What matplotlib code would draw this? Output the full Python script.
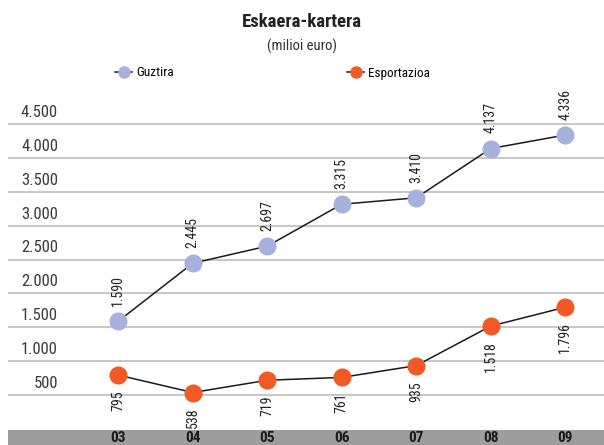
import matplotlib.pyplot as plt
from matplotlib.lines import Line2D
import matplotlib.transforms as mtransforms

plt.rcParams['font.family'] = ['Roboto Condensed', 'DejaVu Sans']

years = ['03', '04', '05', '06', '07', '08', '09']
guztira = [1590, 2445, 2697, 3315, 3410, 4137, 4336]
esportazioa = [795, 538, 719, 761, 935, 1518, 1796]
yticks = [500, 1000, 1500, 2000, 2500, 3000, 3500, 4000, 4500]

blue = '#a6b2dc'
orange = '#f15a24'

def fmt(v):
    return f'{v:,}'.replace(',', '.')

fig = plt.figure(figsize=(6.04, 4.45), dpi=100)
ax = fig.add_axes([8/604, 16/445, 596/604, 339/445])
x = list(range(len(years)))

for t in yticks:
    ax.axhline(t, color='#c8c8c8', lw=1.5, zorder=1)
trans = mtransforms.blended_transform_factory(fig.transFigure, ax.transData)
for t in yticks:
    ax.text(58/604, t + 60, fmt(t), transform=trans, ha='right', va='bottom',
            fontsize=12, color='#3a3a3a')

ax.plot(x, guztira, color='#1a1a1a', lw=1.1, marker='o', markersize=12,
        markerfacecolor=blue, markeredgecolor=blue, zorder=3)
ax.plot(x, esportazioa, color='#1a1a1a', lw=1.1, marker='o', markersize=12,
        markerfacecolor=orange, markeredgecolor=orange, zorder=3)

for i, v in enumerate(guztira):
    ax.annotate(fmt(v), (i, v), xytext=(0, 11), textcoords='offset points',
                rotation=90, ha='center', va='bottom', fontsize=10, color='#222222')
for i, v in enumerate(esportazioa):
    ax.annotate(fmt(v), (i, v), xytext=(0, -11), textcoords='offset points',
                rotation=90, ha='center', va='top', fontsize=10, color='#222222')

ax.set_xlim(-1.48, 6.52)
ax.set_ylim(0, 5000)
ax.set_xticks([])
ax.set_yticks([])
for s in ax.spines.values():
    s.set_visible(False)

# gray band with years
band = fig.add_axes([8/604, 0, 596/604, 15/445])
band.set_facecolor('#9d9d9e')
band.set_xlim(-1.48, 6.52)
band.set_ylim(0, 15)
band.set_xticks([])
band.set_yticks([])
for s in band.spines.values():
    s.set_visible(False)
for i, y in enumerate(years):
    band.text(i, 7.2, y, ha='center', va='center', fontsize=11,
              fontweight='bold', color='#1a1a1a')

fig.text(0.5, 1 - 22/445, 'Eskaera-kartera', ha='center', va='center',
         fontsize=13.5, fontweight='bold', color='#222222')
fig.text(0.5, 1 - 46/445, '(milioi euro)', ha='center', va='center',
         fontsize=10.5, color='#333333')

h1 = Line2D([], [], color='#1a1a1a', lw=1.1, marker='o', markersize=8,
            markerfacecolor=blue, markeredgecolor=blue)
h2 = Line2D([], [], color='#1a1a1a', lw=1.1, marker='o', markersize=8,
            markerfacecolor=orange, markeredgecolor=orange)
for h, lab, x0 in [(h1, 'Guztira', 115), (h2, 'Esportazioa', 347)]:
    fig.legend([h], [lab], frameon=False, loc='center left',
               bbox_to_anchor=(x0/604, 1 - 73/445), fontsize=9.5, borderpad=0,
               borderaxespad=0, handlelength=1.3, handletextpad=0.3)

plt.savefig('out.png', dpi=100)
